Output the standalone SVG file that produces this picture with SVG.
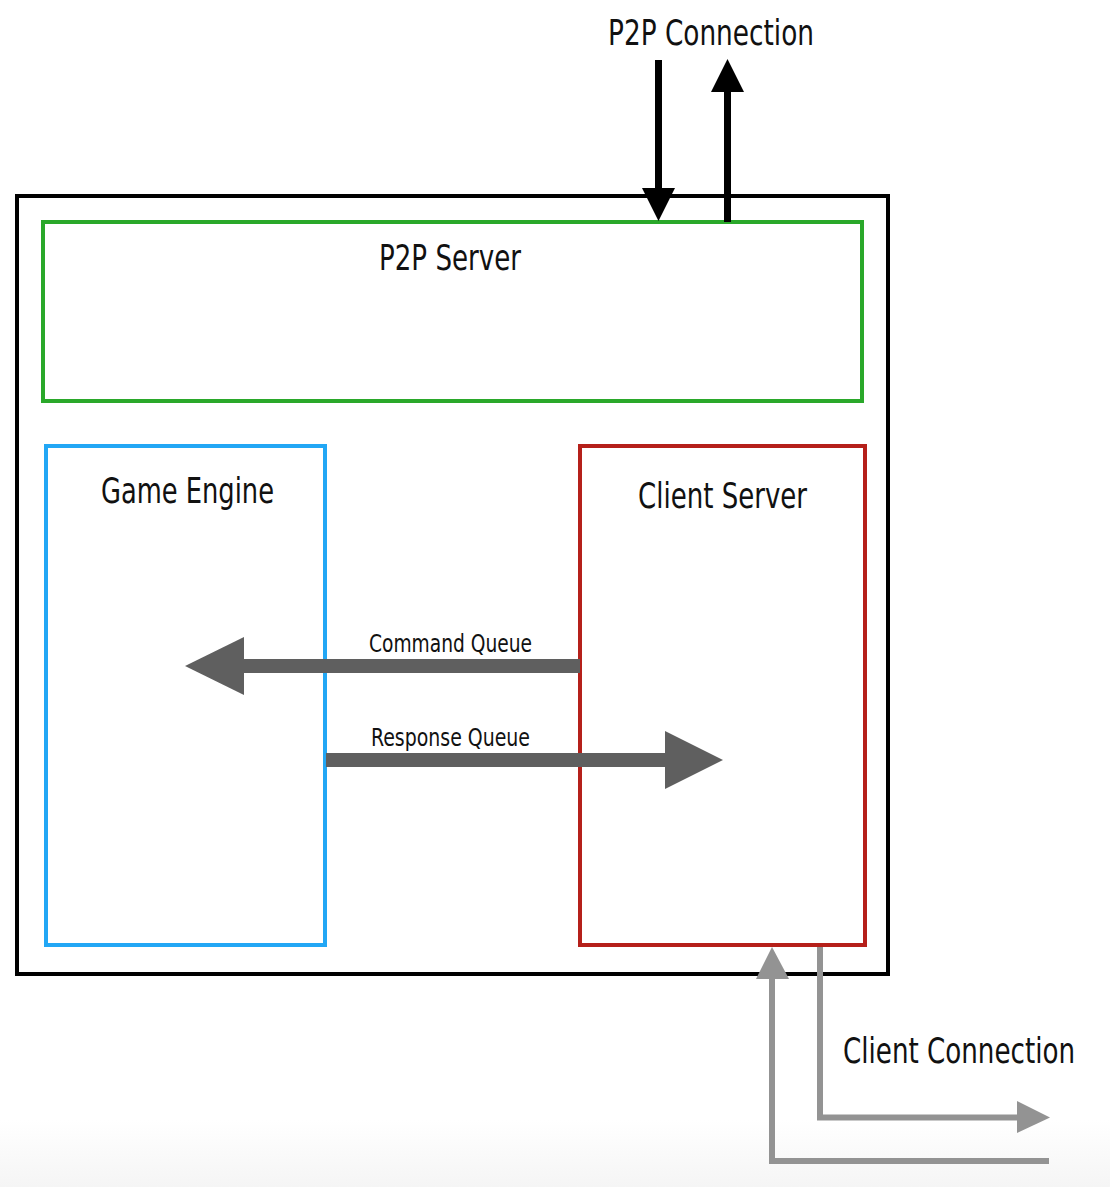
<svg xmlns="http://www.w3.org/2000/svg" width="1110" height="1187" viewBox="0 0 1110 1187">
<defs>
<linearGradient id="bg" x1="0" y1="0" x2="0" y2="1">
<stop offset="0" stop-color="#ffffff"/>
<stop offset="1" stop-color="#f5f5f5"/>
</linearGradient>
<style>
.t{font-family:"Liberation Sans Narrow","DejaVu Sans Condensed","Liberation Sans",sans-serif;fill:#111;text-anchor:middle}
.big{font-size:36px}
.small{font-size:24px}
.box{fill:none;stroke-width:4}
</style>
</defs>
<rect x="0" y="0" width="1110" height="1187" fill="#fff"/>
<rect x="0" y="1120" width="1110" height="67" fill="url(#bg)"/>
<g id="container"><rect class="box" x="17" y="196" width="871" height="778" stroke="#000"/></g>
<g id="p2p-server"><rect class="box" x="43" y="222" width="819" height="179" stroke="#2aa82a"/>
<text class="t big" x="450" y="270" textLength="142" lengthAdjust="spacingAndGlyphs">P2P Server</text></g>
<g id="game-engine"><rect class="box" x="46" y="446" width="279" height="499" stroke="#22a7f5"/>
<text class="t big" x="187.5" y="503" textLength="173" lengthAdjust="spacingAndGlyphs">Game Engine</text></g>
<g id="client-server"><rect class="box" x="580" y="446" width="285" height="499" stroke="#b5201a"/>
<text class="t big" x="722.5" y="508" textLength="169" lengthAdjust="spacingAndGlyphs">Client Server</text></g>
<g id="connectors">
<line x1="658.5" y1="60" x2="658.5" y2="190" stroke="#000" stroke-width="7"/>
<polygon points="642,188 675,188 658.5,221" fill="#000"/>
<line x1="727.5" y1="222" x2="727.5" y2="90" stroke="#000" stroke-width="7"/>
<polygon points="711,92 744,92 727.5,59" fill="#000"/>
<line x1="580" y1="666" x2="240" y2="666" stroke="#5f5f5f" stroke-width="14"/>
<polygon points="244,637 244,695 185,666" fill="#5f5f5f"/>
<line x1="326" y1="760" x2="670" y2="760" stroke="#5f5f5f" stroke-width="14"/>
<polygon points="665,731 665,789 723,760" fill="#5f5f5f"/>
<polyline points="1049,1161 772,1161 772,975" fill="none" stroke="#939393" stroke-width="6"/>
<polygon points="756,979 789,979 772,947" fill="#939393"/>
<polyline points="820,947 820,1117.5 1020,1117.5" fill="none" stroke="#939393" stroke-width="6"/>
<polygon points="1017,1101 1017,1133 1050,1117.5" fill="#939393"/>
<text class="t small" x="450.5" y="652" textLength="163" lengthAdjust="spacingAndGlyphs">Command Queue</text>
<text class="t small" x="450.5" y="746" textLength="159" lengthAdjust="spacingAndGlyphs">Response Queue</text>
<text class="t big" x="711" y="45" textLength="206" lengthAdjust="spacingAndGlyphs">P2P Connection</text>
<text class="t big" x="959" y="1063" textLength="232" lengthAdjust="spacingAndGlyphs">Client Connection</text>
</g>
</svg>
